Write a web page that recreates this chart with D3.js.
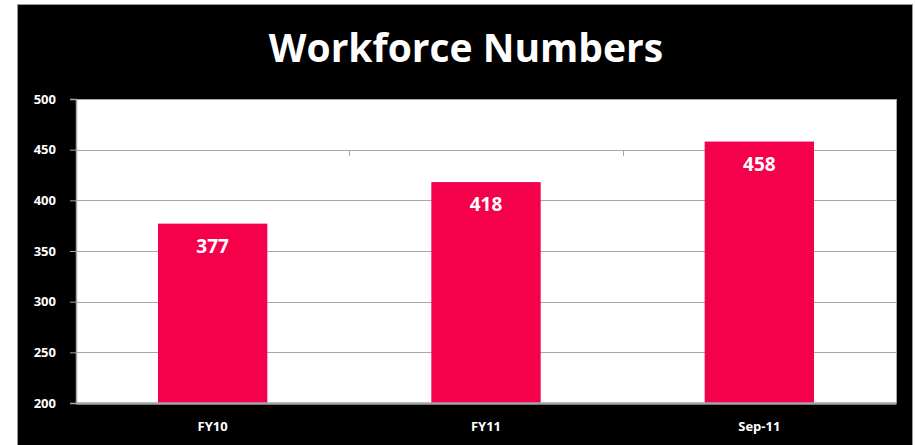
<!DOCTYPE html>
<html>
<head>
<meta charset="utf-8">
<script src="https://cdn.jsdelivr.net/npm/d3@7"></script>
<style>
	body { margin: 0; background: #fff; }
	text { font-family: "Open Sans", "DejaVu Sans", sans-serif; }
</style>
</head>
<body>
<div id="chart-area"></div>
<script>
// Data
const categories = ["FY10", "FY11", "Sep-11"]
const values = [377, 418, 458]
const yTicks = [200, 250, 300, 350, 400, 450, 500]

// Canvas
const W = 915, H = 445
const margin = { left: 76, right: 19, top: 99, bottom: 42 }
const width = W - margin.left - margin.right,
	height = H - margin.top - margin.bottom

const svg = d3.select("#chart-area")
	.append("svg")
	.attr("width", W)
	.attr("height", H)

// black frame
svg.append("rect")
	.attr("x", 17.5).attr("y", 4.5)
	.attr("width", 895).attr("height", 445)
	.attr("fill", "#000")
	.attr("stroke", "#9a9a9a")

svg.append("text")
	.attr("x", 466)
	.attr("y", 62)
	.attr("text-anchor", "middle")
	.attr("fill", "#fff")
	.attr("font-size", "39px")
	.attr("font-weight", "bold")
	.text("Workforce Numbers")

const g = svg.append("g")
	.attr("transform", `translate(${margin.left}, ${margin.top})`)

// Scales
const x = d3.scaleBand().domain(categories).range([0, width]).paddingInner(0.6).paddingOuter(0.3)
const xc = d3.scaleBand().domain(categories).range([0, width])
const y = d3.scaleLinear().domain([200, 500]).range([height, 0])

// plot background
g.append("rect")
	.attr("width", width).attr("height", height)
	.attr("fill", "#fff")

// gridlines
g.selectAll(".grid")
	.data(yTicks.slice(1))
	.enter().append("line")
	.attr("x1", 0).attr("x2", width)
	.attr("y1", d => Math.round(y(d)) + 0.5).attr("y2", d => Math.round(y(d)) + 0.5)
	.attr("stroke", "#a6a6a6")

// small category divider ticks hanging off the 450 line
g.selectAll(".divtick")
	.data(categories.slice(1).concat(["end"]))
	.enter().append("line")
	.attr("x1", (d, i) => Math.round(xc.step() * (i + 1)) + 0.5)
	.attr("x2", (d, i) => Math.round(xc.step() * (i + 1)) + 0.5)
	.attr("y1", Math.round(y(450)))
	.attr("y2", Math.round(y(450)) + 6)
	.attr("stroke", "#a6a6a6")

// bars
g.selectAll(".bar")
	.data(values)
	.enter().append("rect")
	.attr("x", (d, i) => x(categories[i]))
	.attr("width", x.bandwidth())
	.attr("y", d => y(d))
	.attr("height", d => height - y(d))
	.attr("fill", "#f5004b")

// value labels
g.selectAll(".val")
	.data(values)
	.enter().append("text")
	.attr("x", (d, i) => x(categories[i]) + x.bandwidth() / 2)
	.attr("y", d => y(d) + 29)
	.attr("text-anchor", "middle")
	.attr("fill", "#fff")
	.attr("font-size", "19px")
	.attr("font-weight", "bold")
	.text(d => d)

// Axes
const yAxis = g.append("g")
	.call(d3.axisLeft(y).tickValues(yTicks).tickSize(6).tickPadding(14))
yAxis.select(".domain").attr("stroke", "#a6a6a6").attr("stroke-width", 1.5)
yAxis.selectAll(".tick line").attr("stroke", "#a6a6a6")
yAxis.selectAll(".tick text")
	.attr("fill", "#fff")
	.attr("font-size", "13px")
	.attr("font-weight", "bold")

const xAxis = g.append("g")
	.attr("transform", `translate(0, ${height})`)
	.call(d3.axisBottom(xc).tickSize(0).tickPadding(19).tickSizeOuter(0))
xAxis.select(".domain").attr("stroke", "#a6a6a6").attr("stroke-width", 2.5)
xAxis.selectAll(".tick text")
	.attr("fill", "#fff")
	.attr("font-size", "13px")
	.attr("font-weight", "bold")

// right border of plot
g.append("line")
	.attr("x1", width + 0.5).attr("x2", width + 0.5)
	.attr("y1", 0).attr("y2", height)
	.attr("stroke", "#a6a6a6")
</script>
</body>
</html>
